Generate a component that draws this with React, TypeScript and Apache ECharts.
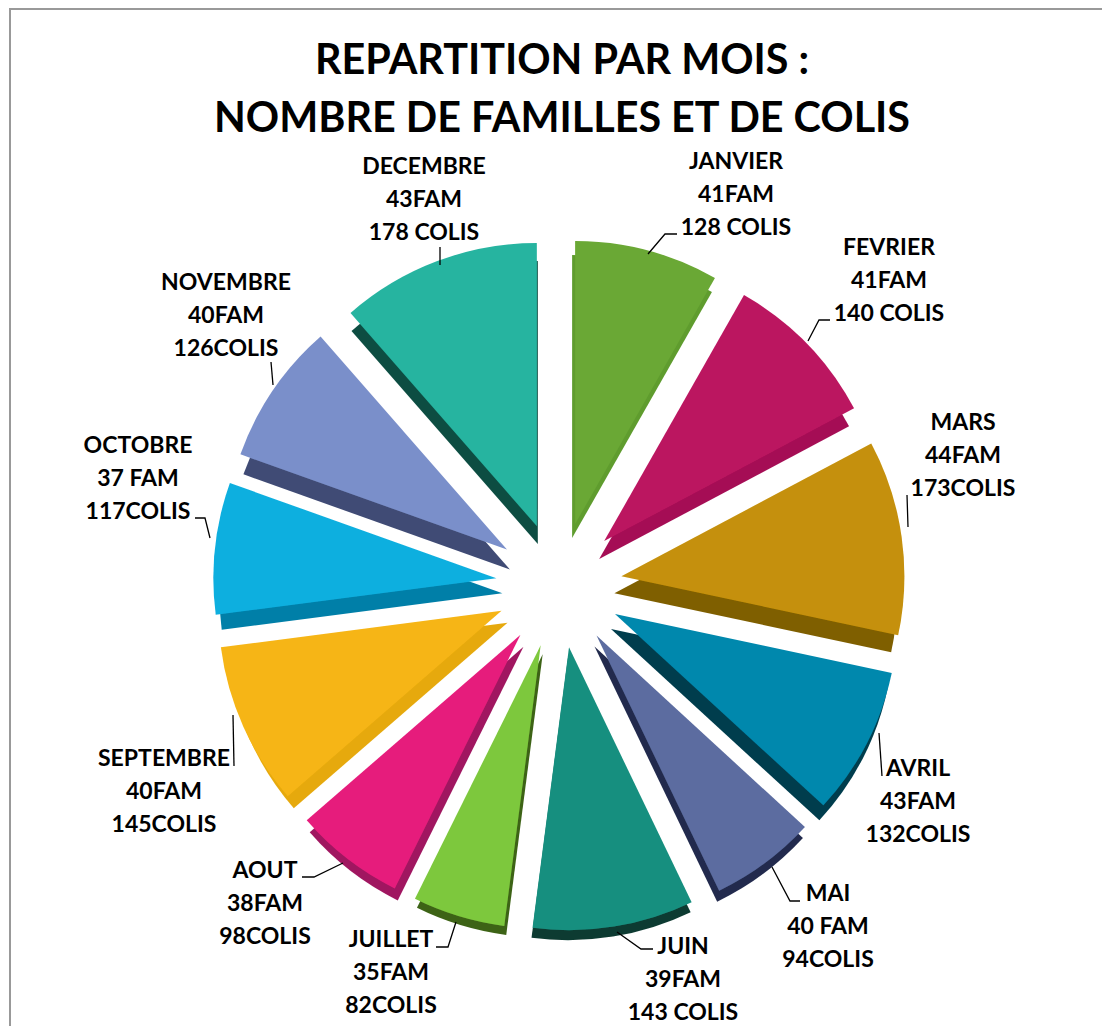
import React, { useEffect, useRef } from "react";
import * as echarts from "echarts";

const months = ["JANVIER", "FEVRIER", "MARS", "AVRIL", "MAI", "JUIN", "JUILLET", "AOUT", "SEPTEMBRE", "OCTOBRE", "NOVEMBRE", "DECEMBRE"];
const familyLabels = ["41FAM", "41FAM", "44FAM", "43FAM", "40 FAM", "39FAM", "35FAM", "38FAM", "40FAM", "37 FAM", "40FAM", "43FAM"];
const colisLabels = ["128 COLIS", "140 COLIS", "173COLIS", "132COLIS", "94COLIS", "143 COLIS", "82COLIS", "98COLIS", "145COLIS", "117COLIS", "126COLIS", "178 COLIS"];
const colisValues = [128, 140, 173, 132, 94, 143, 82, 98, 145, 117, 126, 178];

const topColors = ["#6aa834", "#bb1560", "#c5900a", "#0488ad", "#5b6ca0", "#198f7f", "#7dc83c", "#e61e7c", "#f6b514", "#10afdf", "#7a8fca", "#26b4a0"];
const wallColors = ["#5f9c2d", "#a50f55", "#7f5f02", "#003c4d", "#232b4d", "#083a30", "#3e6317", "#a01460", "#e6a90b", "#007fa8", "#3f4c74", "#0e4d43"];
const wallOffsets = [[-3, 14], [-5, 18], [-7, 17], [-4, 15], [-2, 11], [-1, 10], [2, 9], [3, 12], [6, 12], [6, 15], [3, 20], [1, 18]];

const labelCentres = [[736, 193], [889, 279], [963, 454], [918, 800], [828, 925], [683, 978], [391, 971], [265, 902], [164, 790], [138, 477], [226, 314], [424, 198]];
const leaderLines = [
  [[648, 254], [665, 234], [677, 234]],
  [[808, 341], [819, 320], [830, 320]],
  [[908, 527], [907, 495]],
  [[882, 776], [879, 733]],
  [[772, 867], [790, 901], [800, 901]],
  [[617, 932], [641, 949], [653, 949]],
  [[456, 922], [448, 947], [436, 947]],
  [[343, 863], [314, 877], [302, 877]],
  [[233, 715], [234, 766]],
  [[210, 538], [205, 518], [195, 518]],
  [[271, 362], [273, 385]],
  [[440, 247], [440, 265]],
];

const FONT = "Lato, Carlito, 'Open Sans', sans-serif";
const CENTER = [559, 585];
const RADIUS = 283;

export default function App() {
  const ref = useRef<HTMLDivElement>(null);
  useEffect(() => {
    document.body.style.margin = "0";
    const chart = echarts.init(ref.current!, null, { renderer: "svg" });
    chart.setOption({
      animation: false,
      backgroundColor: "#ffffff",
      title: {
        text: "REPARTITION PAR MOIS :\nNOMBRE DE FAMILLES ET DE COLIS",
        left: 557,
        top: 24,
        textAlign: "center",
        textStyle: { fontFamily: FONT, fontWeight: "bold", fontSize: 41.3, lineHeight: 58, color: "#000000" },
      },
      graphic: [
        { type: "rect", silent: true, z: -10, shape: { x: 10, y: 9, width: 1200, height: 1200 }, style: { fill: "none", stroke: "#999999", lineWidth: 2 } },
      ],
      series: [
        {
          type: "pie",
          center: CENTER,
          radius: [0, RADIUS],
          startAngle: 90,
          clockwise: true,
          selectedMode: "multiple",
          selectedOffset: 63,
          emphasis: { disabled: true },
          label: { show: false },
          labelLine: { show: false },
          data: colisValues.map((value, i) => ({
            value,
            name: months[i],
            selected: true,
            itemStyle: {
              color: topColors[i],
              shadowColor: wallColors[i],
              shadowBlur: 0,
              shadowOffsetX: wallOffsets[i][0],
              shadowOffsetY: wallOffsets[i][1],
            },
          })),
        },
        {
          type: "pie",
          center: CENTER,
          radius: [0, RADIUS],
          startAngle: 90,
          clockwise: true,
          silent: true,
          z: 5,
          avoidLabelOverlap: false,
          itemStyle: { color: "rgba(0,0,0,0)" },
          label: {
            show: true,
            position: "outside",
            fontFamily: FONT,
            fontWeight: "bold",
            fontSize: 23,
            lineHeight: 33,
            color: "#000000",
            align: "center",
            formatter: (p: any) => `${months[p.dataIndex]}\n${familyLabels[p.dataIndex]}\n${colisLabels[p.dataIndex]}`,
          },
          labelLine: { show: true, lineStyle: { color: "#000000", width: 1.3 } },
          labelLayout: (p: any) => ({
            x: labelCentres[p.dataIndex][0],
            y: labelCentres[p.dataIndex][1],
            align: "center",
            verticalAlign: "middle",
            labelLinePoints: leaderLines[p.dataIndex],
          }),
          data: colisValues.map((value, i) => ({ value, name: months[i] })),
        },
      ],
    });
    return () => chart.dispose();
  }, []);
  return <div ref={ref} style={{ width: 1102, height: 1026 }} />;
}
